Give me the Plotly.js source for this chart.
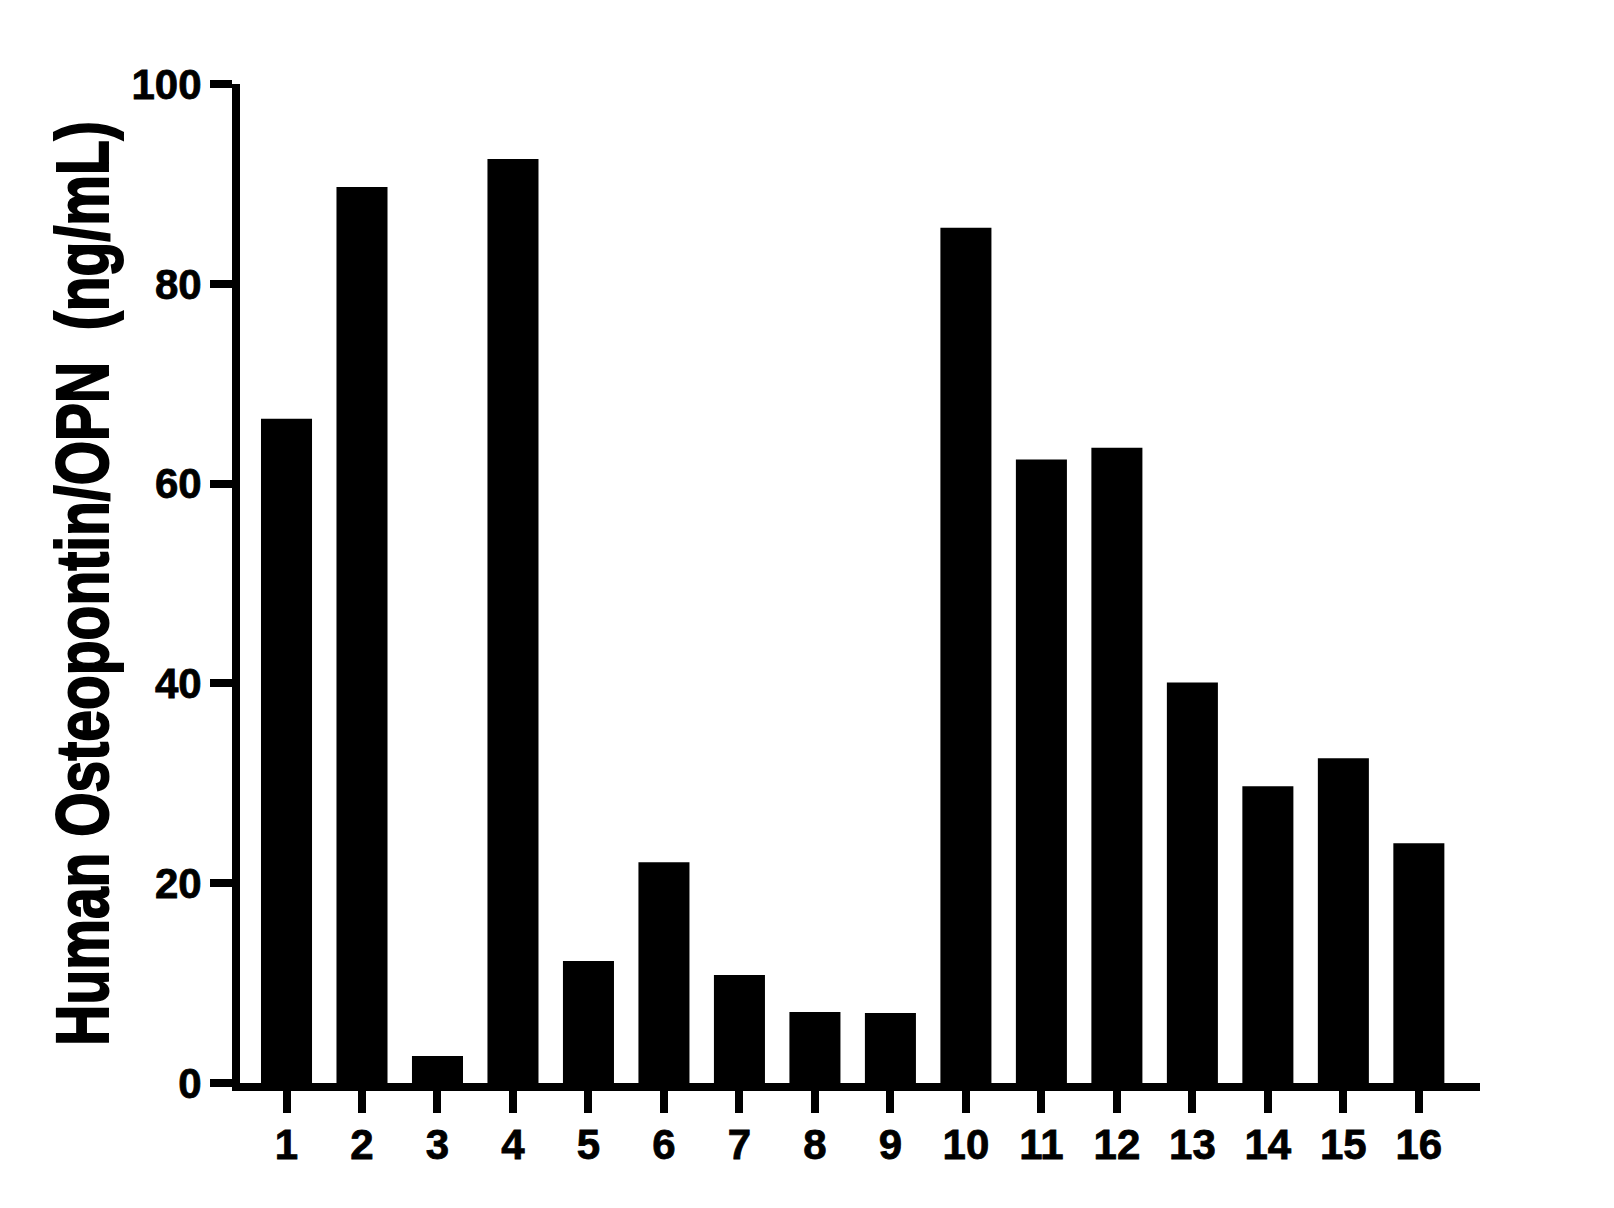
<!DOCTYPE html>
<html>
<head>
<meta charset="utf-8">
<script src="https://cdn.plot.ly/plotly-3.0.1.min.js"></script>
<style>
  html, body { margin: 0; padding: 0; background: #ffffff; }
  #chart { width: 1614px; height: 1208px; }
  /* the source uses a slightly heavier bold than Liberation Sans */
  #chart .xtick text, #chart .ytick text { stroke: #000000; stroke-width: 0.8px; }
  #chart .g-ytitle text { stroke: #000000; stroke-width: 1.5px; }
</style>
</head>
<body>
<div id="chart"></div>
<script>
// sample numbers on the x axis
const samples = ["1", "2", "3", "4", "5", "6", "7", "8", "9", "10", "11", "12", "13", "14", "15", "16"];

// OPN concentration, ng/mL
const opnValues = [66.5, 89.7, 2.7, 92.5, 12.2, 22.1, 10.8, 7.1, 7.0, 85.6, 62.4, 63.6, 40.1, 29.7, 32.5, 24.0];

const yTicks = [0, 20, 40, 60, 80, 100];

const tickFont = {
  family: "Liberation Sans, Arial, sans-serif",
  size: 42,
  weight: "bold",
  color: "#000000"
};

const data = [
  {
    type: "bar",
    x: samples,
    y: opnValues,
    marker: {
      color: "#000000",
      line: { width: 0 }
    },
    hoverinfo: "skip"
  }
];

const layout = {
  width: 1614,
  height: 1208,
  margin: { t: 84, l: 240, r: 134, b: 125 },
  paper_bgcolor: "#ffffff",
  plot_bgcolor: "#ffffff",
  showlegend: false,
  bargap: 0.324,
  xaxis: {
    type: "category",
    range: [-0.616, 15.81],
    showline: true,
    linecolor: "#000000",
    linewidth: 8,
    showgrid: false,
    zeroline: false,
    ticks: "outside",
    ticklen: 22,
    tickwidth: 8,
    tickcolor: "#000000",
    tickfont: tickFont,
    ticklabelstandoff: -4,
    fixedrange: true
  },
  yaxis: {
    range: [0, 100],
    tickvals: yTicks,
    showline: true,
    linecolor: "#000000",
    linewidth: 8,
    showgrid: false,
    zeroline: false,
    ticks: "outside",
    ticklen: 22,
    tickwidth: 8,
    tickcolor: "#000000",
    tickfont: tickFont,
    title: {
      text: "Human Osteopontin/OPN  (ng/mL)",
      standoff: 20,
      font: {
        family: "Liberation Sans, Arial, sans-serif",
        size: 57,
        weight: "bold",
        color: "#000000"
      }
    },
    fixedrange: true
  }
};

const config = {
  responsive: false,
  displayModeBar: false,
  staticPlot: true
};

Plotly.newPlot("chart", data, layout, config).then(function (gd) {
  // the original title font is taller than Arial: stretch it across the text
  const t = gd.querySelector(".g-ytitle text");
  if (!t) return;
  const r = t.getBoundingClientRect().right;
  const base = t.getAttribute("transform") || "";
  t.setAttribute("transform",
    "translate(123.7,0) scale(1.3,1) translate(" + (-r) + ",0) " + base);
});
</script>
</body>
</html>
